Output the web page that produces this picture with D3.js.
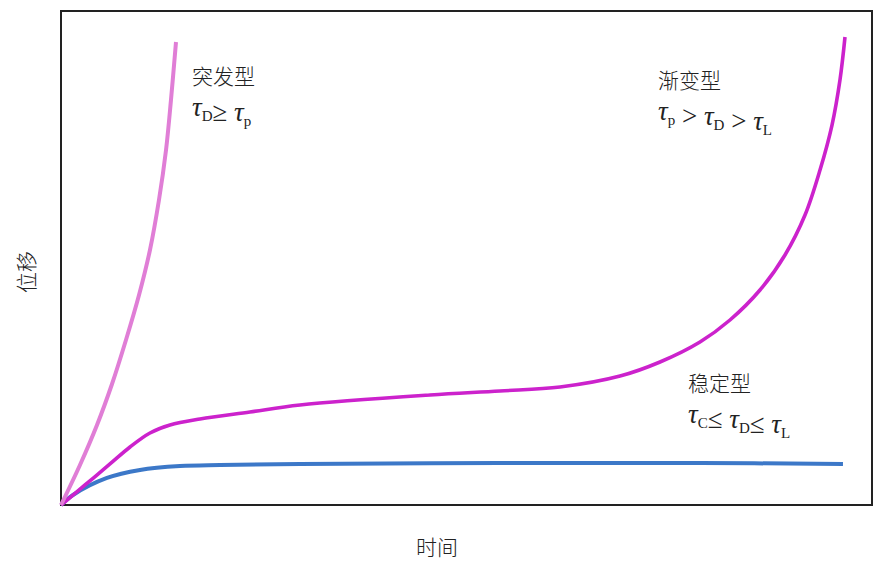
<!DOCTYPE html>
<html>
<head>
<meta charset="utf-8">
<script src="https://cdn.jsdelivr.net/npm/d3@7"></script>
<style>
  body { margin: 0; background: #fff; }
  .cjk { font-family: "Noto Sans CJK SC", sans-serif; fill: #222; font-weight: 300; }
  .tau { font-family: "Liberation Serif", "DejaVu Serif", serif; fill: #222; }
</style>
</head>
<body>
<script>
//data (time and displacement in arbitrary units, 0-100)
var suddenT = [0, 2.34, 4.44, 6.29, 8.01, 9.62, 10.97, 12.08, 12.95, 13.56, 14.18];
var suddenD = [0, 8.10, 16.19, 24.49, 33.40, 42.51, 51.62, 61.74, 71.86, 81.98, 93.72];

var gradualT = [0, 2.96, 6.04, 8.51, 10.97, 13.44, 17.14, 23.30, 29.47, 45.50, 54.13, 61.53, 68.93, 73.86, 78.79, 82.49, 86.19, 89.27, 91.74, 93.59, 95.07, 96.05, 96.67];
var gradualD = [0, 4.05, 8.30, 11.74, 14.57, 16.19, 17.41, 18.83, 20.24, 22.27, 23.08, 23.89, 26.11, 28.95, 33.00, 37.45, 43.52, 50.61, 58.70, 67.81, 76.92, 86.03, 94.74];

var stableT = [0, 1.48, 5.67, 9.74, 14.67, 19.61, 29.47, 54.13, 78.79, 96.42];
var stableD = [0, 2.02, 5.47, 7.09, 7.89, 8.10, 8.30, 8.50, 8.50, 8.30];

var xLabel = "时间",
    yLabel = "位移";

//begin script when window loads
window.onload = drawChart();

function drawChart(){

    var width = 887,
        height = 569;

    var svg = d3.select("body")
        .append("svg")
        .attr("width", width)
        .attr("height", height);

    //plot frame
    var left = 61, right = 872, top = 11, bottom = 505;

    var x = d3.scaleLinear().domain([0, 100]).range([left, right]);
    var y = d3.scaleLinear().domain([0, 100]).range([bottom, top]);

    svg.append("rect")
        .attr("x", x(0))
        .attr("y", y(100))
        .attr("width", x(100) - x(0))
        .attr("height", y(0) - y(100))
        .attr("fill", "none")
        .attr("stroke", "#222")
        .attr("stroke-width", 2);

    var line = d3.line()
        .x(function(d){ return x(d[0]); })
        .y(function(d){ return y(d[1]); })
        .curve(d3.curveCatmullRom.alpha(0.5));

    function zip(a, b){ return a.map(function(v, i){ return [v, b[i]]; }); }

    //curves: stable, gradual, sudden
    var series = [
        {pts: zip(stableT, stableD), color: "#3c78c8", w: 4},
        {pts: zip(gradualT, gradualD), color: "#cc22cc", w: 3.6},
        {pts: zip(suddenT, suddenD), color: "#e07ed6", w: 4}
    ];

    svg.selectAll(".curve")
        .data(series)
        .enter()
        .append("path")
        .attr("class", "curve")
        .attr("d", function(d){ return line(d.pts); })
        .attr("fill", "none")
        .attr("stroke", function(d){ return d.color; })
        .attr("stroke-width", function(d){ return d.w; })
        .attr("stroke-linecap", "butt");

    //axis titles
    svg.append("text")
        .attr("class", "cjk")
        .attr("x", 437)
        .attr("y", 555)
        .attr("text-anchor", "middle")
        .attr("font-size", 21)
        .text(xLabel);

    svg.append("text")
        .attr("class", "cjk")
        .attr("transform", "translate(34,272) rotate(-90)")
        .attr("text-anchor", "middle")
        .attr("font-size", 21)
        .text(yLabel);

    //annotations: title + tau relation
    function note(px, py, title, parts){
        svg.append("text")
            .attr("class", "cjk")
            .attr("x", px)
            .attr("y", py)
            .attr("font-size", 21)
            .text(title);

        var t = svg.append("text")
            .attr("class", "tau")
            .attr("x", px)
            .attr("y", py + 32)
            .attr("font-size", 27);

        parts.forEach(function(p){
            if (p.sub) {
                t.append("tspan").attr("font-size", 15).attr("dy", 5).text(p.sub);
                t.append("tspan").attr("dy", -5).text("");
            } else if (p.op) {
                t.append("tspan").attr("font-size", 27).text(p.op);
            } else {
                t.append("tspan").attr("font-style", "italic").text(p.txt);
            }
        });
    }

    note(192, 84, "突发型", [
        {txt: "τ"}, {sub: "D"}, {op: "≥ "}, {txt: "τ"}, {sub: "p"}
    ]);
    note(658, 88, "渐变型", [
        {txt: "τ"}, {sub: "p"}, {op: " > "}, {txt: "τ"}, {sub: "D"}, {op: " > "}, {txt: "τ"}, {sub: "L"}
    ]);
    note(688, 391, "稳定型", [
        {txt: "τ"}, {sub: "C"}, {op: "≤ "}, {txt: "τ"}, {sub: "D"}, {op: "≤ "}, {txt: "τ"}, {sub: "L"}
    ]);
}
</script>
</body>
</html>
